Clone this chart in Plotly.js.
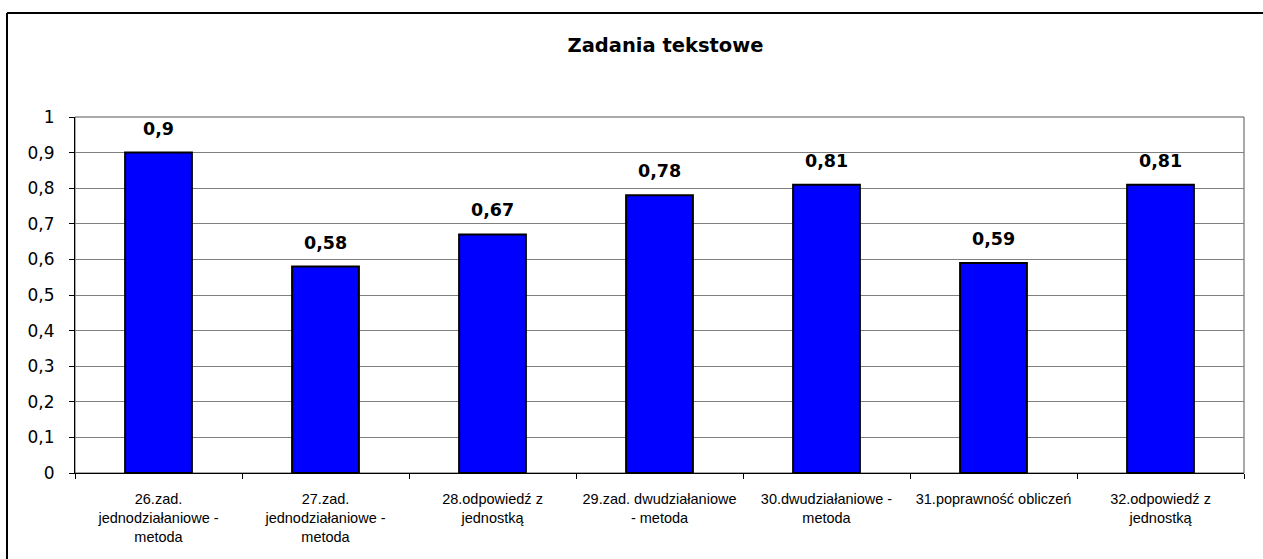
<!DOCTYPE html>
<html>
<head>
<meta charset="utf-8">
<script src="https://cdn.plot.ly/plotly-3.0.1.min.js"></script>
<style>
html,body{margin:0;padding:0;background:#fff;overflow:hidden;}
#chart{width:1263px;height:559px;}
</style>
</head>
<body>
<div id="chart"></div>
<script>
const chartTitle = "Zadania tekstowe";
const categories = [
  "26.zad.<br>jednodziałaniowe -<br>metoda",
  "27.zad.<br>jednodziałaniowe -<br>metoda",
  "28.odpowiedź z<br>jednostką",
  "29.zad. dwudziałaniowe<br>- metoda",
  "30.dwudziałaniowe -<br>metoda",
  "31.poprawność obliczeń",
  "32.odpowiedź z<br>jednostką"
];
const values = [0.9, 0.58, 0.67, 0.78, 0.81, 0.59, 0.81];
const yTickVals = [0, 0.1, 0.2, 0.3, 0.4, 0.5, 0.6, 0.7, 0.8, 0.9, 1];

const fmt = v => String(v).replace('.', ',');

const W = 1263, H = 559;
const M = {l: 75, r: 19, t: 117, b: 86};
const pw = W - M.l - M.r, ph = H - M.t - M.b;
// outer chart frame (left and top edges visible)
const fx0 = (7 - M.l) / pw, fx1 = (1300 - M.l) / pw, fy = (H - M.b - 13) / ph;

const trace = {
  type: 'bar',
  x: categories,
  y: values,
  width: 0.4,
  marker: {color: '#0000FF', line: {color: '#000000', width: 2}},
  hoverinfo: 'none'
};

const annotations = categories.map((c, i) => ({
  x: c, y: values[i], xref: 'x', yref: 'y',
  text: fmt(values[i]), showarrow: false,
  yshift: 24, yanchor: 'middle',
  font: {family: 'DejaVu Sans', size: 17.5, color: '#000', weight: 'bold'}
}));

const layout = {
  width: W, height: H,
  margin: {l: M.l, r: M.r, t: M.t, b: M.b, pad: 0},
  paper_bgcolor: '#fff',
  plot_bgcolor: '#fff',
  separators: ', ',
  showlegend: false,
  bargap: 0.6,
  title: {
    text: '<b>' + chartTitle + '</b>',
    x: 638 / W, xref: 'paper', xanchor: 'center',
    y: 1 - 45 / H, yref: 'container', yanchor: 'middle',
    font: {family: 'DejaVu Sans', size: 19.5, color: '#000'}
  },
  xaxis: {
    type: 'category',
    tickson: 'boundaries',
    ticks: 'outside', ticklen: 5, tickcolor: '#000', tickwidth: 1,
    showline: true, linecolor: '#000', linewidth: 1,
    showgrid: false, zeroline: false,
    tickfont: {family: 'Liberation Sans, Arial', size: 14.5, color: '#000'},
    tickangle: 0,
    ticklabelstandoff: 13,
    fixedrange: true
  },
  yaxis: {
    range: [0, 1],
    tickvals: yTickVals,
    ticktext: yTickVals.map(fmt),
    ticks: 'outside', ticklen: 5, tickcolor: '#000', tickwidth: 1,
    showline: true, linecolor: '#000', linewidth: 1,
    showgrid: true, gridcolor: '#808080', gridwidth: 1,
    zeroline: false,
    tickfont: {family: 'DejaVu Sans', size: 17, color: '#000'},
    ticklabelstandoff: 11,
    fixedrange: true
  },
  shapes: [
    {type: 'rect', xref: 'paper', yref: 'paper', x0: 0, x1: 1, y0: 0, y1: 1,
     line: {color: '#555', width: 1}, layer: 'below'},
    {type: 'line', xref: 'paper', yref: 'paper', x0: fx0, x1: fx0, y0: -0.5, y1: fy,
     line: {color: '#000', width: 2}},
    {type: 'line', xref: 'paper', yref: 'paper', x0: fx0, x1: fx1, y0: fy, y1: fy,
     line: {color: '#000', width: 2}}
  ],
  annotations: annotations
};

Plotly.newPlot('chart', [trace], layout, {staticPlot: true, displayModeBar: false});
</script>
</body>
</html>
